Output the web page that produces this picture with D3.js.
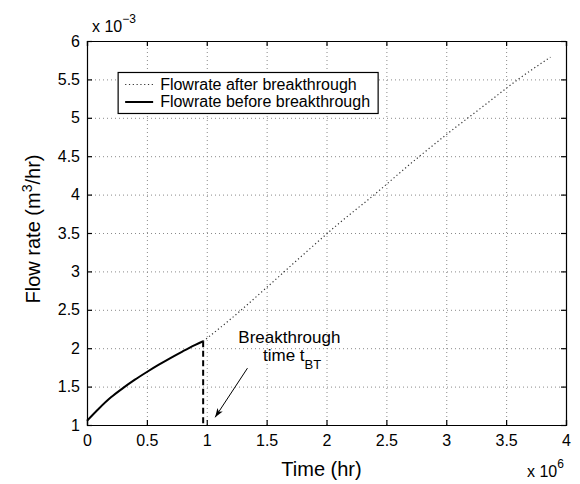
<!DOCTYPE html>
<html>
<head>
<meta charset="utf-8">
<script src="https://cdn.jsdelivr.net/npm/d3@7"></script>
<style>
  body { margin: 0; background: #fff; }
  svg { font-family: "Liberation Sans", Arial, sans-serif; }
</style>
</head>
<body>
<div id="chart"></div>
<script>
// Data (time in 1e6 hr, flow rate in 1e-3 m3/hr)
const beforeTime = [0, 0.1, 0.2, 0.3, 0.4, 0.5, 0.6, 0.7, 0.8, 0.9, 0.97];
const beforeFlow = [1.055, 1.215, 1.36, 1.48, 1.59, 1.69, 1.785, 1.875, 1.96, 2.04, 2.09];
const afterTime = [0.97, 1.2, 1.5, 1.8, 2.1, 2.4, 2.7, 3.0, 3.3, 3.6, 3.87];
const afterFlow = [2.09, 2.38, 2.79, 3.21, 3.62, 4.00, 4.40, 4.78, 5.14, 5.50, 5.79];
const breakthroughTime = 0.97;
const xTicks = [0, 0.5, 1, 1.5, 2, 2.5, 3, 3.5, 4];
const yTicks = [1, 1.5, 2, 2.5, 3, 3.5, 4, 4.5, 5, 5.5, 6];
const legendLabels = ['Flowrate after breakthrough', 'Flowrate before breakthrough'];

// Set graph sizes
const margin = { top: 41, right: 14, bottom: 59, left: 87 };
const width = 580 - margin.left - margin.right;
const height = 484 - margin.top - margin.bottom;

const svg = d3.select('#chart')
  .append('svg')
  .attr('width', 580)
  .attr('height', 484)
  .append('g')
  .attr('transform', `translate(${margin.left},${margin.top})`);

const x = d3.scaleLinear().domain([0, 4]).range([0, width]);
const y = d3.scaleLinear().domain([1, 6]).range([height, 0]);

const fmt = (d) => String(d);

// grid
svg.append('g')
  .attr('class', 'grid')
  .attr('transform', `translate(0,${height})`)
  .call(d3.axisBottom(x).tickValues(xTicks).tickSize(-height).tickFormat(''));
svg.append('g')
  .attr('class', 'grid')
  .call(d3.axisLeft(y).tickValues(yTicks).tickSize(-width).tickFormat(''));
svg.selectAll('.grid .domain').remove();
svg.selectAll('.grid line')
  .attr('stroke', '#8a8a8a')
  .attr('stroke-width', 1)
  .attr('stroke-dasharray', '1,3');

// axes (ticks inward on all four sides)
const bottom = svg.append('g')
  .attr('transform', `translate(0,${height})`)
  .call(d3.axisBottom(x).tickValues(xTicks).tickSize(-5).tickPadding(10).tickFormat(fmt));
const left = svg.append('g')
  .call(d3.axisLeft(y).tickValues(yTicks).tickSize(-5).tickPadding(7).tickFormat(fmt));
svg.append('g')
  .call(d3.axisTop(x).tickValues(xTicks).tickSize(-5).tickFormat(''));
svg.append('g')
  .attr('transform', `translate(${width},0)`)
  .call(d3.axisRight(y).tickValues(yTicks).tickSize(-5).tickFormat(''));
svg.selectAll('.domain').attr('stroke', '#000').attr('stroke-width', 1.2);
svg.selectAll('.tick line').filter(function () {
  return this.parentNode.parentNode.getAttribute('class') !== 'grid';
}).attr('stroke', '#000').attr('stroke-width', 1.2);
bottom.selectAll('text').attr('font-size', 16).attr('fill', '#000')
  .attr('font-family', '"Liberation Sans", Arial, sans-serif');
left.selectAll('text').attr('font-size', 16).attr('fill', '#000')
  .attr('font-family', '"Liberation Sans", Arial, sans-serif');

// line data
const before = beforeTime.map((t, i) => ({ t, v: beforeFlow[i] }));
const after = afterTime.map((t, i) => ({ t, v: afterFlow[i] }));
const line = d3.line()
  .x((d) => x(d.t))
  .y((d) => y(d.v))
  .curve(d3.curveMonotoneX);

svg.append('path')
  .datum(after)
  .attr('fill', 'none')
  .attr('stroke', '#333')
  .attr('stroke-width', 1.2)
  .attr('stroke-dasharray', '1.2,2.6')
  .attr('d', line);

svg.append('path')
  .datum(before)
  .attr('fill', 'none')
  .attr('stroke', '#000')
  .attr('stroke-width', 2)
  .attr('d', line);

// breakthrough marker
svg.append('line')
  .attr('x1', x(breakthroughTime))
  .attr('x2', x(breakthroughTime))
  .attr('y1', y(afterFlow[0]))
  .attr('y2', y(1))
  .attr('stroke', '#000')
  .attr('stroke-width', 2)
  .attr('stroke-dasharray', '6,3.5');

// annotation
svg.append('defs').append('marker')
  .attr('id', 'arrow')
  .attr('viewBox', '0 0 10 10')
  .attr('refX', 10)
  .attr('refY', 5)
  .attr('markerWidth', 12)
  .attr('markerHeight', 9)
  .attr('markerUnits', 'userSpaceOnUse')
  .attr('orient', 'auto')
  .append('path')
  .attr('d', 'M0,1.5L10,5L0,8.5L2.5,5Z')
  .attr('fill', '#000');

svg.append('line')
  .attr('x1', x(1.34))
  .attr('y1', y(1.74))
  .attr('x2', x(1.07))
  .attr('y2', y(1.1))
  .attr('stroke', '#000')
  .attr('stroke-width', 1)
  .attr('marker-end', 'url(#arrow)');

svg.append('text')
  .attr('x', x(1.69))
  .attr('y', y(2.07))
  .attr('text-anchor', 'middle')
  .attr('font-size', 17)
  .text('Breakthrough');
const t2 = svg.append('text')
  .attr('x', x(1.47))
  .attr('y', y(1.835))
  .attr('font-size', 17);
t2.append('tspan').text('time t');
t2.append('tspan').attr('dy', 8).attr('font-size', 13).text('BT');

// legend
const legend = svg.append('g').attr('transform', `translate(${x(0.26)},${y(5.59)})`);
legend.append('rect')
  .attr('width', 260)
  .attr('height', 41)
  .attr('fill', '#fff')
  .attr('stroke', '#000')
  .attr('stroke-width', 1.2);
const legendStyles = [
  { stroke: '#333', width: 1.2, dash: '1.2,2.6' },
  { stroke: '#000', width: 2, dash: null },
];
legendLabels.forEach((label, i) => {
  const yy = 12 + i * 17.5;
  legend.append('line')
    .attr('x1', 7).attr('x2', 35)
    .attr('y1', yy).attr('y2', yy)
    .attr('stroke', legendStyles[i].stroke)
    .attr('stroke-width', legendStyles[i].width)
    .attr('stroke-dasharray', legendStyles[i].dash);
  legend.append('text')
    .attr('x', 42)
    .attr('y', yy + 5.5)
    .attr('font-size', 16)
    .text(label);
});

// axis labels and exponents
svg.append('text')
  .attr('x', width / 2 - 5)
  .attr('y', height + 51)
  .attr('text-anchor', 'middle')
  .attr('font-size', 20)
  .text('Time (hr)');

const ylab = svg.append('text')
  .attr('transform', `translate(${-47},${height / 2 - 4}) rotate(-90)`)
  .attr('text-anchor', 'middle')
  .attr('font-size', 20);
ylab.append('tspan').text('Flow rate (m');
ylab.append('tspan').attr('dy', -8).attr('font-size', 14).text('3');
ylab.append('tspan').attr('dy', 8).text('/hr)');

const ex = svg.append('text')
  .attr('x', 5)
  .attr('y', -9)
  .attr('font-size', 16);
ex.append('tspan').text('x 10');
ex.append('tspan').attr('dy', -9).attr('font-size', 12).text('\u22123');

const ex2 = svg.append('text')
  .attr('x', width - 39)
  .attr('y', height + 52)
  .attr('font-size', 16);
ex2.append('tspan').text('x 10');
ex2.append('tspan').attr('dy', -9).attr('font-size', 12).text('6');
</script>
</body>
</html>
